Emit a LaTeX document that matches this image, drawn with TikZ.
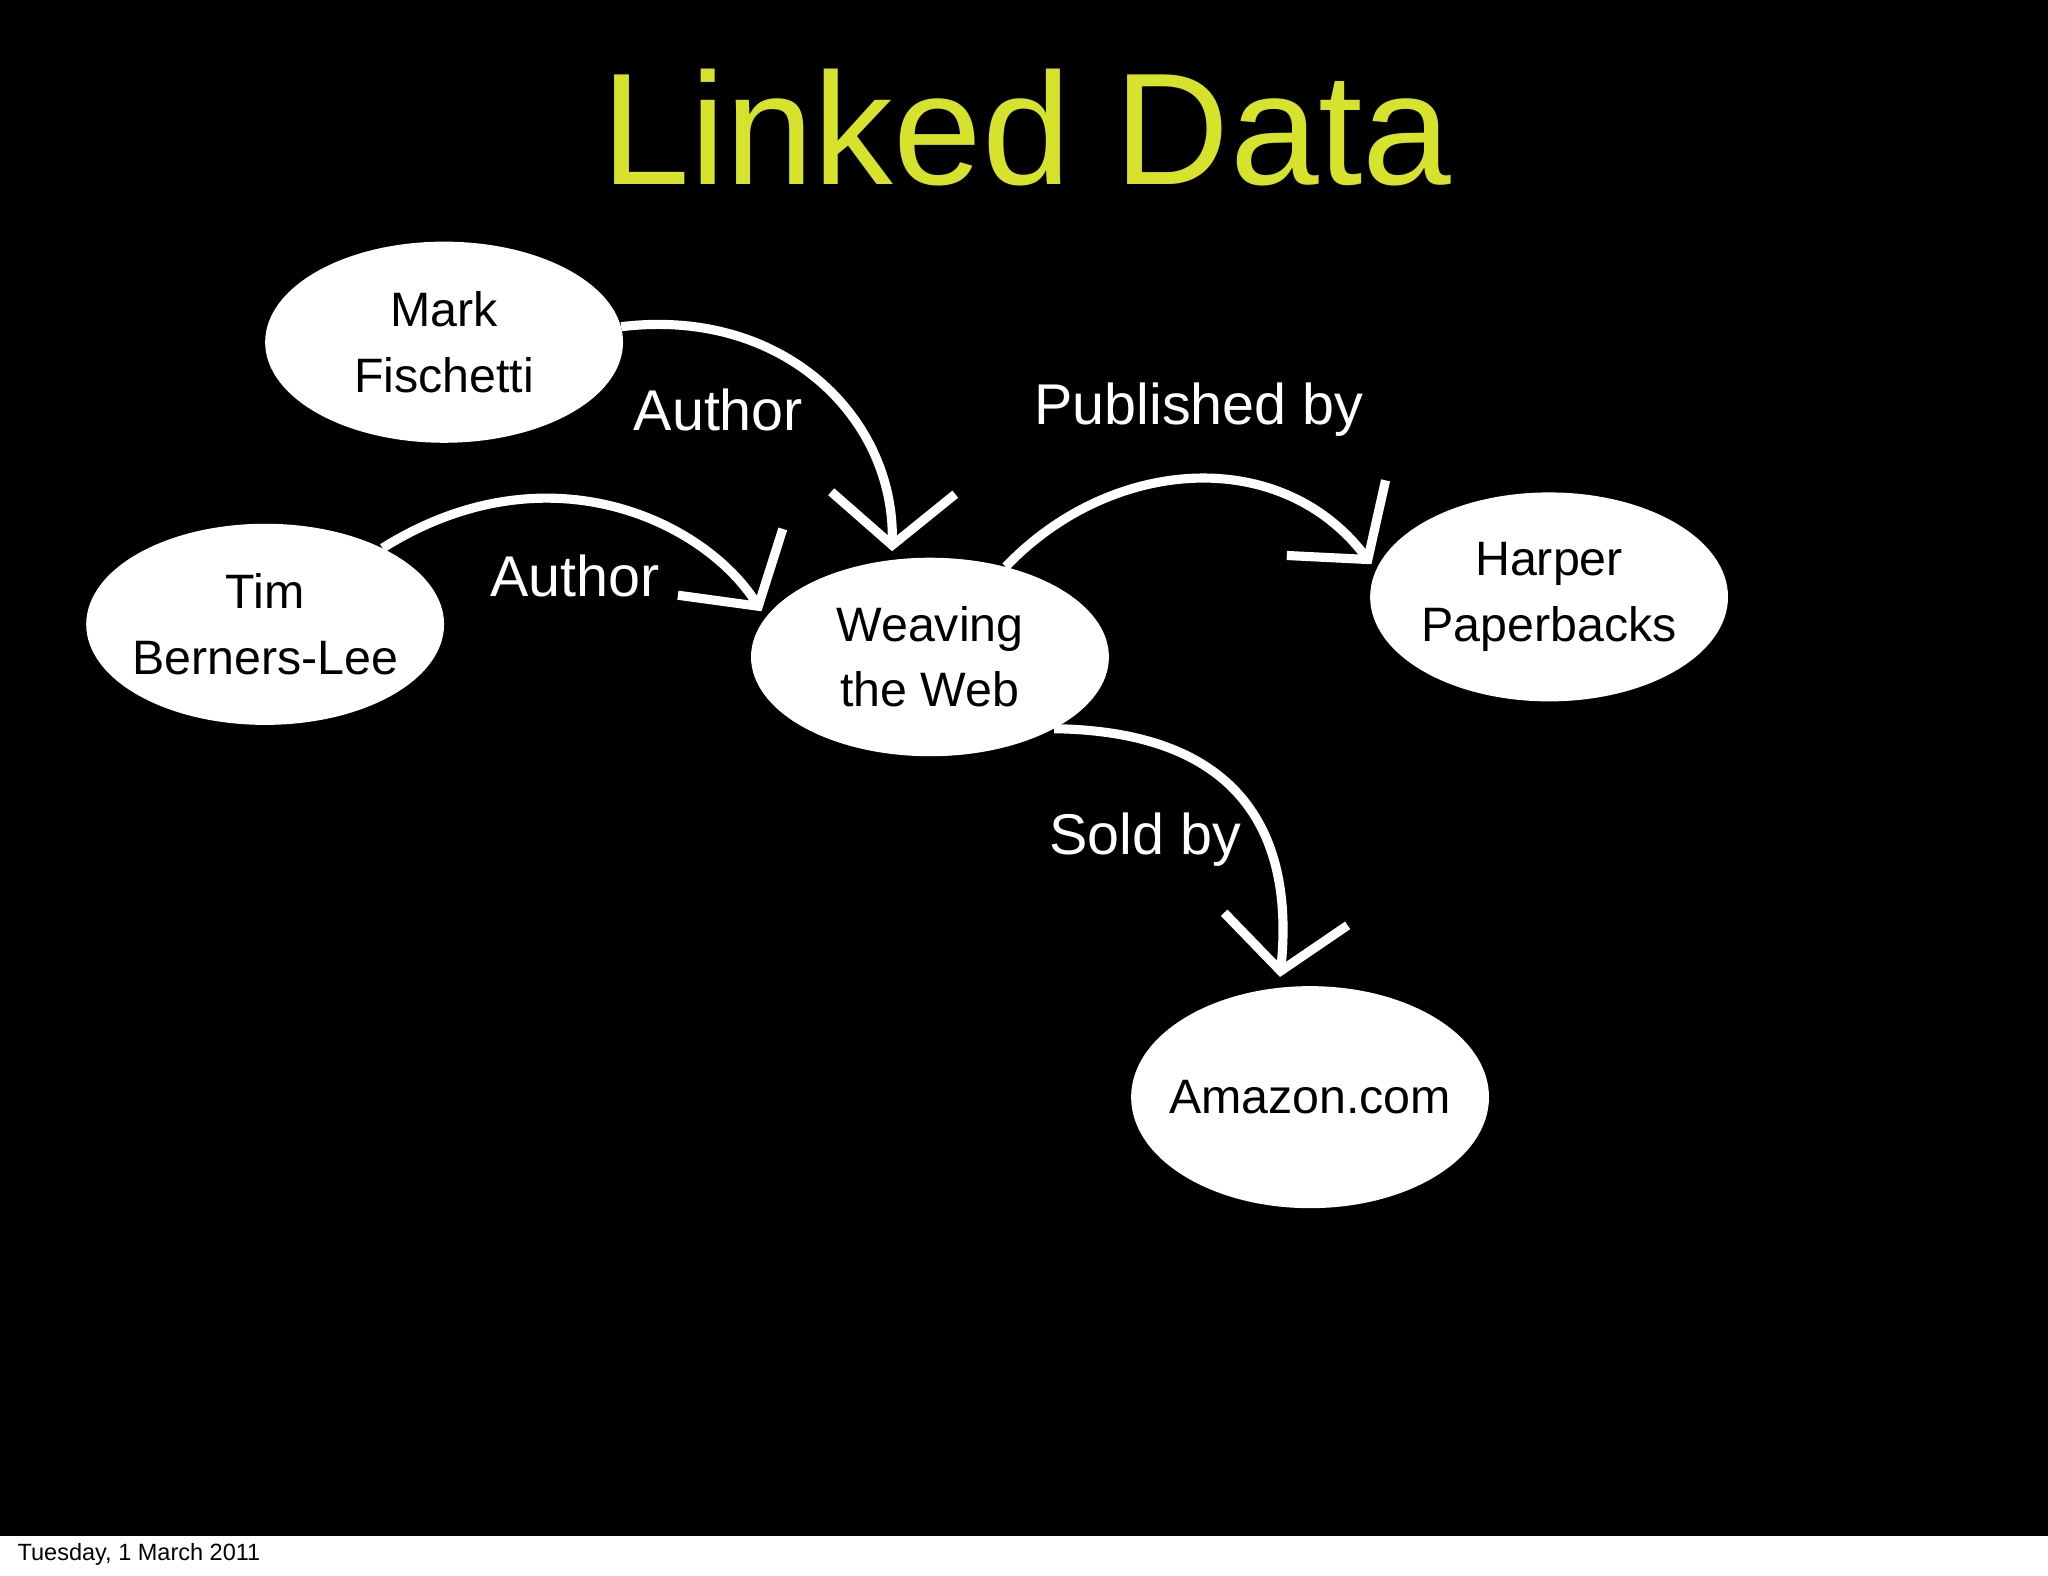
\documentclass[tikz,border=0pt]{standalone}
\usepackage{fontspec}
\setmainfont{Liberation Sans}
\usetikzlibrary{arrows.meta,shapes.geometric}
\definecolor{titlecol}{HTML}{D6E22C}
\tikzset{
  ent/.style={ellipse,fill=white,minimum width=274pt,minimum height=154pt,inner xsep=-25pt,inner ysep=-10pt,align=center,font=\fontsize{37}{50}\selectfont,text=black},
  rel/.style={white,line width=7pt,-{Straight Barb[length=40pt,width=95pt,line width=7pt]}},
  lab/.style={text=white,font=\fontsize{44}{50}\selectfont}
}
\begin{document}
\begin{tikzpicture}[x=1pt,y=-1pt]
\useasboundingbox (0,0) rectangle (1568,1206);
\fill[white] (0,0) rectangle (1568,1206);
\fill[black] (0,0) rectangle (1568,1176);
\node[text=titlecol,font=\fontsize{122}{130}\selectfont] (title) at (786,98) {Linked Data};
\node[ent] (mark) at (340,262) {Mark\\Fischetti};
\node[ent] (tim) at (203,478) {Tim\\Berners-Lee};
\node[ent,minimum height=152pt] (web) at (712,503) {Weaving\\the Web};
\node[ent,minimum height=160pt] (harper) at (1186,457) {Harper\\Paperbacks};
\node[ent,minimum height=170pt] (amazon) at (1003,840) {Amazon.com};
\draw[rel] (mark.5) .. controls (600,235) and (685,320) .. (683,422);
\draw[rel] (tim.33) .. controls (420,340) and (540,400) .. (583,468);
\draw[rel] (web.50) .. controls (850,350) and (980,340) .. (1050,432);
\draw[rel] (web.-30) .. controls (960,560) and (990,650) .. (980,748);
\node[lab] (l1) at (550,314) {Author};
\node[lab] (l2) at (440,441) {Author};
\node[lab] (l3) at (918,314) {Published by};
\node[lab] (l4) at (877,643) {Sold by};
\node[font=\fontsize{18}{20}\selectfont,anchor=west] (date) at (10,1190) {Tuesday, 1 March 2011};
\end{tikzpicture}
\end{document}
